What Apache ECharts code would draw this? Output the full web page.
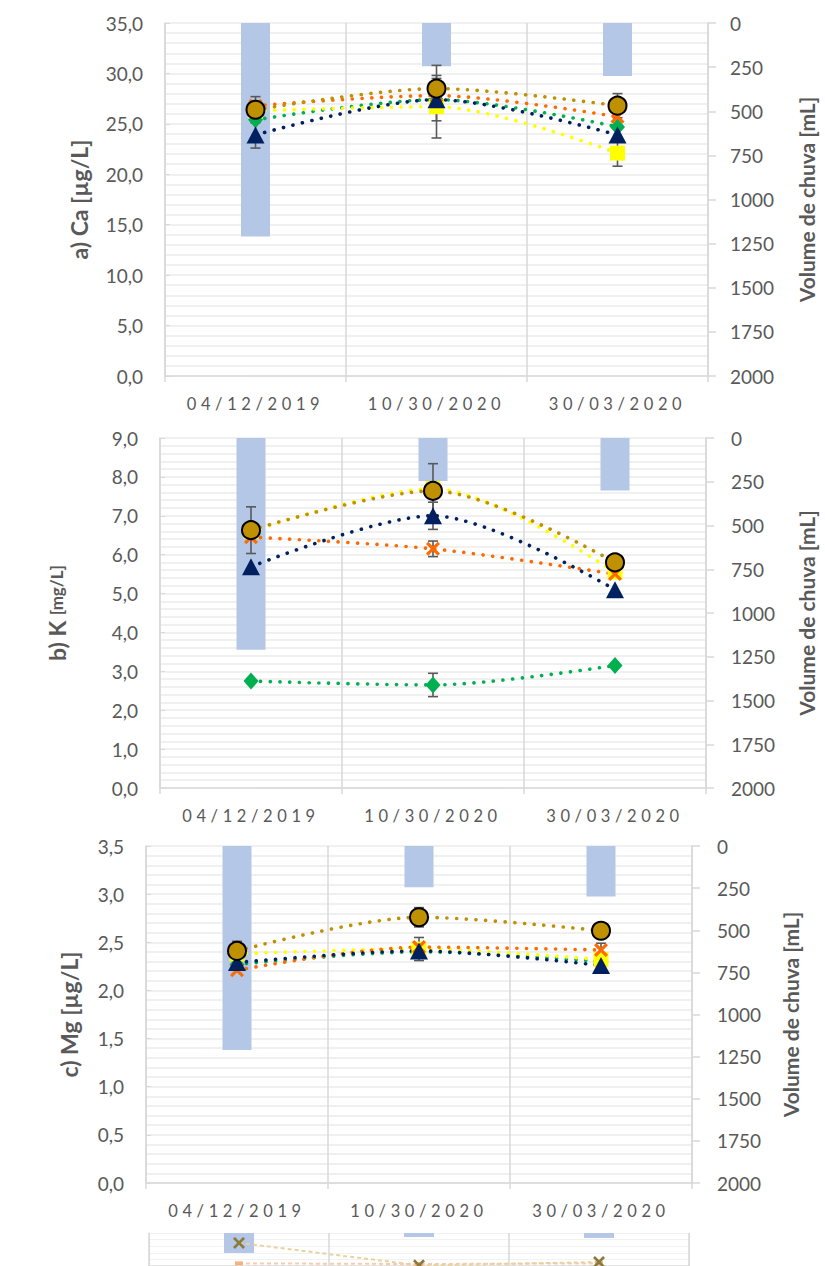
<!DOCTYPE html>
<html><head><meta charset="utf-8">
<script src="https://cdn.jsdelivr.net/npm/echarts@6/dist/echarts.min.js"></script>
<style>
html,body{margin:0;padding:0;background:#fff}
#c{width:825px;height:1266px}
#c text[style*="16.5px"]{letter-spacing:4.6px}
</style>
</head><body><div id="c"></div><script>
const categories = ['04/12/2019', '10/30/2020', '30/03/2020'];
const rainVolume = [1210, 245, 300];

// a) Ca
const caGreen  = [25.4, 27.4, 24.7];
const caYellow = [26.3, 26.7, 22.1];
const caOrange = [26.8, 27.8, 25.7];
const caNavy   = [23.9, 27.4, 23.9];
const caGold   = [26.4, 28.5, 26.8];
const caGoldErr   = [1.3, 2.3, 1.2];
const caYellowErr = [0, 3.1, 1.3];
const caNavyErr   = [1.3, 2.1, 0];

// b) K
const kGreen  = [2.75, 2.65, 3.15];
const kYellow = [6.6, 7.7, 5.55];
const kOrange = [6.45, 6.15, 5.5];
const kNavy   = [5.69, 7.0, 5.1];
const kGold   = [6.63, 7.64, 5.8];
const kGoldErr   = [0.6, 0.7, 0];
const kNavyErr   = [0, 0.35, 0];
const kOrangeErr = [0, 0.2, 0];
const kGreenErr  = [0, 0.3, 0];

// c) Mg
const mgGreen  = [2.27, 2.40, 2.30];
const mgYellow = [2.38, 2.43, 2.32];
const mgOrange = [2.21, 2.45, 2.42];
const mgNavy   = [2.29, 2.41, 2.26];
const mgGold   = [2.41, 2.76, 2.62];
const mgGoldErr   = [0.1, 0.1, 0];
const mgYellowErr = [0, 0.12, 0];
const mgOrangeErr = [0, 0, 0.07];
const mgNavyErr   = [0, 0, 0.07];

// partial fourth panel (cut off at the bottom of the page)
const miniGold   = [7.0, 0.2, 1.2];
const miniOrange = [0.8, 0.6, 0.8];

const caTicks = {min: 0, max: 35, interval: 5};
const kTicks  = {min: 0, max: 9, interval: 1};
const mgTicks = {min: 0, max: 3.5, interval: 0.5};
const rainTicks = {min: 0, max: 2000, interval: 250};

const GRAY = '#595959', GRID = '#D9D9D9', MINOR = '#EBEBEB';
const C = {green: '#00B050', yellow: '#FFFF00', orange: '#FF6A00', navy: '#002060', gold: '#BF9000', bar: '#B4C7E7'};
const X_PATH = 'path://M0,1.6 L1.6,0 L5,3.4 L8.4,0 L10,1.6 L6.6,5 L10,8.4 L8.4,10 L5,6.6 L1.6,10 L0,8.4 L3.4,5 Z';
const fmt1 = v => v.toFixed(1).replace('.', ',');

const grids = [
  {left: 165, top: 23, width: 547, height: 353},
  {left: 160, top: 438, width: 550, height: 350},
  {left: 146, top: 846, width: 546, height: 337},
  {left: 149, top: 1233, width: 540, height: 33}
];

function xAxisFor(i, show) {
  return {
    type: 'category', gridIndex: i, data: categories, boundaryGap: true,
    axisLine: {show: true, lineStyle: {color: GRID, width: 1.5}},
    axisTick: {show: show, length: 6, lineStyle: {color: GRID, width: 1.5}},
    splitLine: {show: true, lineStyle: {color: GRID, width: 1.5}},
    axisLabel: {show: show, color: GRAY, fontSize: 16.5, margin: 19, fontFamily: 'Lato'}
  };
}
function leftAxis(i, ticks, name, gap, rich) {
  return Object.assign({
    type: 'value', gridIndex: i, position: 'left',
    name: name, nameLocation: 'middle', nameRotate: 90, nameGap: gap,
    nameTextStyle: {color: GRAY, fontSize: 23, fontWeight: 'bold', fontFamily: 'Lato', rich: rich},
    axisLine: {show: true, lineStyle: {color: GRID, width: 1.5}},
    axisTick: {show: true, inside: true, length: 5, lineStyle: {color: GRID}},
    axisLabel: {color: GRAY, fontSize: 19, margin: 22, fontFamily: 'Lato', formatter: fmt1},
    splitLine: {show: true, lineStyle: {color: MINOR, width: 1.5}},
    minorTick: {show: false, splitNumber: 5},
    minorSplitLine: {show: true, lineStyle: {color: MINOR, width: 1.5}}
  }, ticks);
}
function rightAxis(i, gap, margin) {
  return Object.assign({
    type: 'value', gridIndex: i, position: 'right', inverse: true,
    name: 'Volume de chuva [mL]', nameLocation: 'middle', nameRotate: 90, nameGap: gap,
    nameTextStyle: {color: GRAY, fontSize: 21, fontWeight: 'bold', fontFamily: 'Lato'},
    axisLine: {show: true, lineStyle: {color: GRID, width: 1.5}},
    axisTick: {show: true, length: 8, lineStyle: {color: GRID, width: 1.5}},
    axisLabel: {color: GRAY, fontSize: 19, margin: margin, fontFamily: 'Lato', formatter: v => String(v)},
    splitLine: {show: false}
  }, rainTicks);
}

function barSeries(i) {
  return {type: 'bar', xAxisIndex: i, yAxisIndex: i * 2 + 1, data: rainVolume, barWidth: 29,
    itemStyle: {color: C.bar}, z: 1, silent: true};
}
function lineSeries(i, data, color, symbol, size, extra) {
  return Object.assign({
    type: 'line', xAxisIndex: i, yAxisIndex: i * 2, data: data, smooth: 0.3,
    symbol: symbol, symbolSize: size, showAllSymbol: true,
    lineStyle: {color: color, width: 3.6, type: [0.1, 9.6], cap: 'round'},
    itemStyle: {color: color}, z: 5, silent: true
  }, extra || {});
}
function errSeries(i, vals, errs) {
  const data = [];
  vals.forEach((v, k) => { if (errs[k]) data.push([k, v - errs[k], v + errs[k]]); });
  return {
    type: 'custom', xAxisIndex: i, yAxisIndex: i * 2, data: data, z: 3, silent: true,
    encode: {x: 0, y: [1, 2]},
    renderItem: function (params, api) {
      const xi = api.value(0);
      const lo = api.coord([xi, api.value(1)]);
      const hi = api.coord([xi, api.value(2)]);
      const hw = 5;
      const st = {stroke: GRAY, lineWidth: 1.6};
      return {type: 'group', children: [
        {type: 'line', shape: {x1: lo[0], y1: lo[1], x2: hi[0], y2: hi[1]}, style: st},
        {type: 'line', shape: {x1: lo[0] - hw, y1: lo[1], x2: lo[0] + hw, y2: lo[1]}, style: st},
        {type: 'line', shape: {x1: hi[0] - hw, y1: hi[1], x2: hi[0] + hw, y2: hi[1]}, style: st}
      ]};
    }
  };
}
function panelSeries(i, g, y, o, n, gd, errs) {
  const s = [barSeries(i)];
  errs.forEach(e => s.push(errSeries(i, e[0], e[1])));
  s.push(lineSeries(i, g, C.green, 'diamond', [15, 17]));
  s.push(lineSeries(i, y, C.yellow, 'rect', 15));
  s.push(lineSeries(i, o, C.orange, X_PATH, 14));
  s.push(lineSeries(i, n, C.navy, 'triangle', [18, 17]));
  s.push(lineSeries(i, gd, C.gold, 'circle', 18, {itemStyle: {color: C.gold, borderColor: '#000', borderWidth: 2}}));
  return s;
}

const series = [].concat(
  panelSeries(0, caGreen, caYellow, caOrange, caNavy, caGold,
    [[caGold, caGoldErr], [caYellow, caYellowErr], [caNavy, caNavyErr]]),
  panelSeries(1, kGreen, kYellow, kOrange, kNavy, kGold,
    [[kGold, kGoldErr], [kNavy, kNavyErr], [kOrange, kOrangeErr], [kGreen, kGreenErr]]),
  panelSeries(2, mgGreen, mgYellow, mgOrange, mgNavy, mgGold,
    [[mgGold, mgGoldErr], [mgYellow, mgYellowErr], [mgOrange, mgOrangeErr], [mgNavy, mgNavyErr]]),
  [
    {type: 'bar', xAxisIndex: 3, yAxisIndex: 7, data: rainVolume, barWidth: 30, itemStyle: {color: C.bar}, silent: true},
    {type: 'line', xAxisIndex: 3, yAxisIndex: 6, data: miniOrange, symbol: 'rect', symbolSize: [8, 4],
      itemStyle: {color: '#F4B183'}, lineStyle: {color: '#F8CBAD', width: 2, type: [4, 3]}, silent: true},
    {type: 'line', xAxisIndex: 3, yAxisIndex: 6, data: miniGold, symbol: X_PATH, symbolSize: 12,
      itemStyle: {color: '#8C7A3C'}, lineStyle: {color: '#E6D3A3', width: 2, type: [4, 3]}, silent: true}
  ]
);

const chart = echarts.init(document.getElementById('c'), null, {renderer: 'svg'});
chart.setOption({
  animation: false,
  textStyle: {fontFamily: 'Lato'},
  grid: grids,
  xAxis: [xAxisFor(0, true), xAxisFor(1, true), xAxisFor(2, true), xAxisFor(3, false)],
  yAxis: [
    leftAxis(0, caTicks, 'a) Ca [µg/L]', 75),
    rightAxis(0, 88, 22),
    leftAxis(1, kTicks, '{b|b) K }{s|[mg/L]}', 92, {b: {fontSize: 23, fontWeight: 'bold', color: GRAY, fontFamily: 'Lato'}, s: {fontSize: 17, fontWeight: 'bold', color: GRAY, fontFamily: 'Lato'}}),
    rightAxis(1, 90, 25),
    leftAxis(2, mgTicks, 'c) Mg [µg/L]', 66),
    rightAxis(2, 88, 25),
    {type: 'value', gridIndex: 3, min: 0, max: 10, interval: 2, axisLabel: {show: false},
      axisLine: {show: true, lineStyle: {color: GRID}}, splitLine: {show: true, lineStyle: {color: '#F2F2F2'}}},
    {type: 'value', gridIndex: 3, inverse: true, min: 0, max: 2000, position: 'right', axisLabel: {show: false},
      axisLine: {show: true, lineStyle: {color: GRID}}, splitLine: {show: false}}
  ],
  series: series
});
</script></body></html>
